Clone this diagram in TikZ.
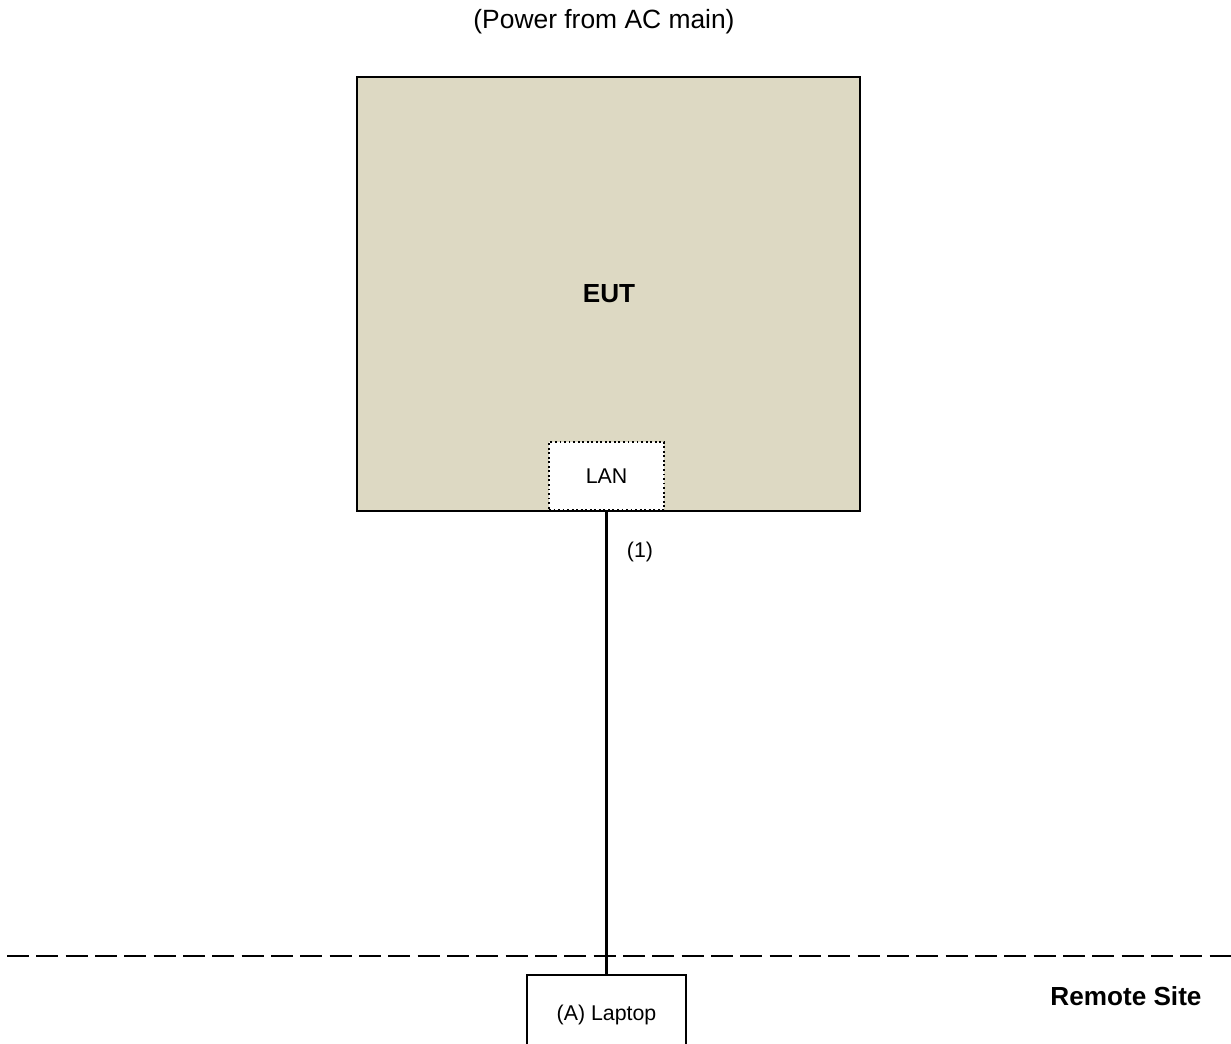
\documentclass[tikz,border=0pt]{standalone}
\usepackage{fontspec}
\setmainfont{Liberation Sans}
\definecolor{eutfill}{HTML}{DDD9C3}
\begin{document}
\begin{tikzpicture}[x=0.75pt,y=-0.75pt,
  box/.style={draw=black,line width=2pt,inner sep=0pt,outer sep=0pt},
  small/.style={font=\fontsize{16}{19}\selectfont},
  big/.style={font=\fontsize{19.8}{23}\selectfont},
  bigb/.style={font=\fontsize{19.6}{23}\selectfont\bfseries},
  conn/.style={line width=2pt},
  sitesep/.style={line width=2pt,dash pattern=on 16.5pt off 5.5pt}]
\useasboundingbox (0,0) rectangle (1231,1043);
\clip (0,0) rectangle (1231,1043);
\node[big] (power) at (604,22) {(Power from AC main)};
\node[box,fill=eutfill,minimum width=503*0.75pt,minimum height=434*0.75pt] (eut) at (608.5,294) {};
\node[bigb] (eutlabel) at (609,294) {EUT};
\node[draw=black,line width=1.4pt,dotted,fill=white,inner sep=0pt,minimum width=115*0.75pt,minimum height=68*0.75pt,small] (lan) at (606.5,476) {LAN};
\node[box,fill=white,minimum width=159*0.75pt,minimum height=80*0.75pt,small] (laptop) at (606.5,1015) {(A) Laptop};
\coordinate (d1) at (7,956);
\coordinate (d2) at (1231,956);
\draw[sitesep] (d1) -- (d2);
\draw[conn] (lan.south) -- (laptop.north);
\node[small] (l1) at (640,552) {(1)};
\node[bigb] (remote) at (1126,996) {Remote Site};
\end{tikzpicture}
\end{document}
